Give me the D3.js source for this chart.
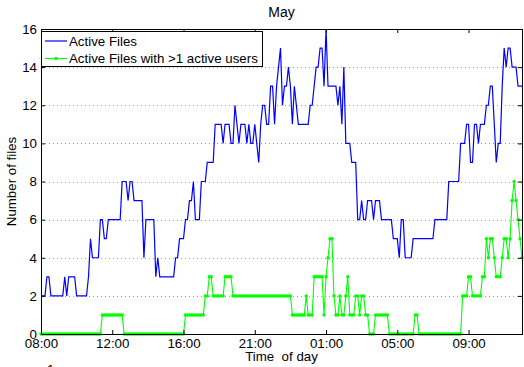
<!DOCTYPE html>
<html lang="en">
<head>
<meta charset="UTF-8">
<title>May - active files</title>
<script src="https://d3js.org/d3.v7.min.js"></script>
<style>
  body { margin: 0; background: #fff; }
  svg { display: block; font-family: "Liberation Sans", Arial, Helvetica, sans-serif; }
  .axis path { display: none; }
  .axis line { stroke: #000; }
  .axis text { font-size: 13.3px; fill: #000; font-family: "Liberation Sans", Arial, sans-serif; }
  .grid line { stroke: #a0a0a0; stroke-dasharray: 1,3; }
</style>
</head>
<body>
<script>
// samples, stored as [value, how many samples in a row]
const blueRuns = [
  [2,3],[3,2],[2,7],[3,1],[2,1],[3,4],[2,6],[3,1],[5,1],[4,4],
  [6,2],[5,2],[6,7],[8,3],[7,1],[8,2],[7,5],[4,1],[6,5],[3,1],
  [4,1],[3,8],[4,2],[5,3],[6,2],[7,2],[8,1],[6,3],[8,3],[9,4],
  [11,4],[10,1],[11,3],[10,2],[12,1],[11,1],[10,1],[11,3],[10,1],[11,1],
  [10,2],[11,1],[10,1],[9,1],[11,1],[12,2],[11,2],[13,2],[11,1],[13,1],
  [14,1],[15,1],[12,1],[13,2],[14,1],[13,1],[11,1],[13,1],[12,1],[11,6],
  [12,2],[13,1],[14,2],[15,2],[13,1],[16,1],[13,5],[12,1],[13,1],[11,1],
  [14,1],[10,3],[9,3],[6,2],[7,1],[6,2],[7,3],[6,1],[7,3],[6,6],
  [5,3],[4,1],[6,2],[4,4],[5,11],[6,7],[8,6],[10,3],[11,2],[9,2],
  [11,2],[10,1],[11,3],[12,2],[13,2],[11,1],[9,1],[10,2],[13,1],[15,1],
  [14,1],[15,2],[14,3],[13,3]
];
const greenRuns = [
  [0,31],[1,11],[0,31],[1,10],[2,2],[3,2],[2,6],[3,4],[2,30],[1,7],
  [2,1],[1,3],[3,5],[1,1],[3,1],[4,1],[5,2],[2,1],[1,2],[2,1],
  [1,2],[2,1],[3,1],[1,3],[2,2],[1,1],[2,2],[1,2],[0,3],[1,7],
  [0,13],[1,2],[0,22],[2,3],[3,2],[2,5],[3,2],[5,1],[4,1],[5,2],
  [4,1],[3,3],[4,1],[5,2],[4,1],[5,1],[7,1],[8,1],[7,1],[6,1],
  [5,1],[4,1]
];
const seriesNames = ["Active Files", "Active Files with >1 active users"];
const xTickIdx = [0, 36, 72, 108, 144, 180, 216];
const xTickLabels = ["08:00", "12:00", "16:00", "21:00", "01:00", "05:00", "09:00"];
const yTickVals = [0, 2, 4, 6, 8, 10, 12, 14, 16];

function expand(runs) {
  const out = [];
  runs.forEach(([v, n]) => { for (let k = 0; k < n; k++) out.push(v); });
  return out;
}
const blue = expand(blueRuns);
const green = expand(greenRuns);

const W = 524, H = 367;
const pL = 41, pR = 522, pT = 29, pB = 334;

const svg = d3.select("body").append("svg")
  .attr("width", W).attr("height", H);

const x = d3.scaleLinear().domain([0, blue.length - 1]).range([pL, pR]);
const y = d3.scaleLinear().domain([0, 16]).range([pB, pT]);

// dotted horizontal grid
svg.append("g").attr("class", "grid")
  .selectAll("line")
  .data(yTickVals.filter(v => v > 0 && v < 16))
  .join("line")
  .attr("x1", pL).attr("x2", pR)
  .attr("y1", d => Math.round(y(d)) + 0.5).attr("y2", d => Math.round(y(d)) + 0.5);

// series
const line = d3.line().x((d, i) => x(i)).y(d => y(d));

svg.append("path").datum(blue)
  .attr("fill", "none").attr("stroke", "#0000ff").attr("stroke-width", 1.2)
  .attr("d", line);

svg.append("path").datum(green)
  .attr("fill", "none").attr("stroke", "#00ff00").attr("stroke-width", 1.1)
  .attr("d", line);

svg.append("g").selectAll("circle")
  .data(green)
  .join("circle")
  .attr("cx", (d, i) => x(i)).attr("cy", d => y(d))
  .attr("r", 1.7).attr("fill", "#00ff00");

// axes, ticks pointing inwards
svg.append("g").attr("class", "axis")
  .attr("transform", `translate(0,${pB})`)
  .call(d3.axisBottom(x).tickValues(xTickIdx)
    .tickFormat((d, i) => xTickLabels[i])
    .tickSizeInner(-4).tickSizeOuter(0).tickPadding(5));

svg.append("g").attr("class", "axis")
  .attr("transform", `translate(0,${pT})`)
  .call(d3.axisTop(x).tickValues(xTickIdx).tickFormat("")
    .tickSizeInner(-4).tickSizeOuter(0));

svg.append("g").attr("class", "axis")
  .attr("transform", `translate(${pL},0)`)
  .call(d3.axisLeft(y).tickValues(yTickVals)
    .tickSizeInner(-4).tickSizeOuter(0).tickPadding(4));

svg.append("g").attr("class", "axis")
  .attr("transform", `translate(${pR},0)`)
  .call(d3.axisRight(y).tickValues(yTickVals).tickFormat("")
    .tickSizeInner(-4).tickSizeOuter(0));

// box
svg.append("rect")
  .attr("x", pL + 0.5).attr("y", pT + 0.5)
  .attr("width", pR - pL).attr("height", pB - pT)
  .attr("fill", "none").attr("stroke", "#000").attr("stroke-width", 1);

// labels
svg.append("text")
  .attr("x", (pL + pR) / 2).attr("y", 17)
  .attr("text-anchor", "middle").attr("font-size", "14px")
  .text("May");

svg.append("text")
  .attr("x", (pL + pR) / 2).attr("y", 361)
  .attr("text-anchor", "middle").attr("font-size", "13.3px")
  .style("white-space", "pre")
  .text("Time  of day");

svg.append("text")
  .attr("transform", `translate(16,${(pT + pB) / 2}) rotate(-90)`)
  .attr("text-anchor", "middle").attr("font-size", "13.3px")
  .text("Number of files");

svg.append("text")
  .attr("x", 47).attr("y", 373.5).attr("font-size", "13.3px")
  .text("1");

// legend
const lg = svg.append("g");
lg.append("rect")
  .attr("x", pL + 0.5).attr("y", 31.5).attr("width", 221).attr("height", 35)
  .attr("fill", "#fff").attr("stroke", "#000");

const legendRows = [
  { name: seriesNames[0], color: "#0000ff", dot: false, y: 41 },
  { name: seriesNames[1], color: "#00ff00", dot: true, y: 58.5 }
];
legendRows.forEach(r => {
  lg.append("line")
    .attr("x1", 45).attr("x2", 67).attr("y1", r.y).attr("y2", r.y)
    .attr("stroke", r.color).attr("stroke-width", 1.2);
  if (r.dot) {
    lg.append("circle").attr("cx", 56).attr("cy", r.y).attr("r", 1.7).attr("fill", r.color);
  }
  lg.append("text")
    .attr("x", 69).attr("y", r.y + 4.7).attr("font-size", "13.3px")
    .text(r.name);
});
</script>
</body>
</html>
